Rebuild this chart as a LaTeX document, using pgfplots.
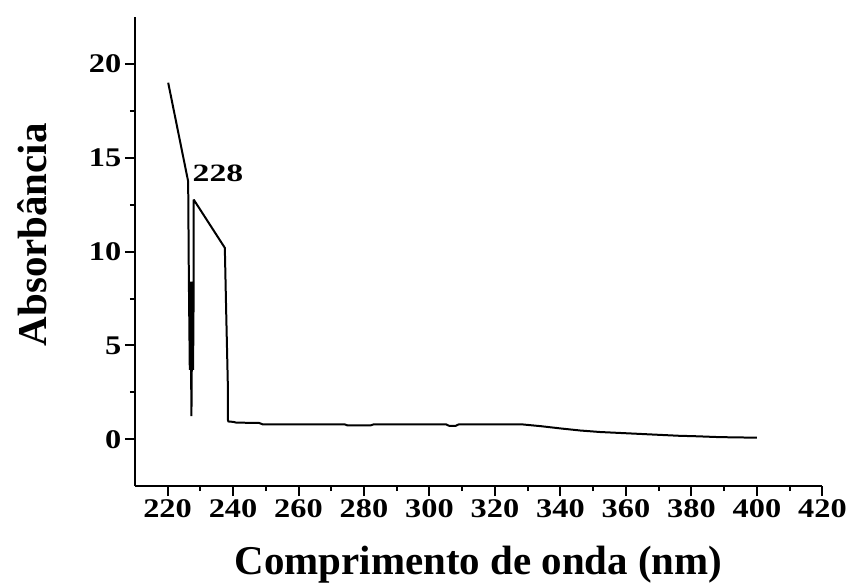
\documentclass[border=0pt]{standalone}
\usepackage{fontspec}
\setmainfont{Liberation Serif}
\newfontfamily\tickfont[FakeStretch=1.2]{Liberation Serif}
\newfontfamily\numfont[FakeStretch=1.35]{Liberation Serif}
\usepackage{pgfplots}
\pgfplotsset{compat=1.18}

\pgfplotstableread{
x y
220.2 19.0
226.3 13.74
226.5 8.8
226.8 3.7
227.0 8.4
227.2 3.7
227.3 1.24
227.4 3.7
227.6 8.4
227.8 3.7
228.0 8.4
228.0 12.77
237.5 10.2
237.9 6.9
238.4 3.03
238.4 1.06
238.6 0.95
240 0.93
241 0.89
248 0.87
249 0.80
274 0.80
275 0.74
282 0.74
283 0.80
305 0.80
306 0.72
308 0.72
309 0.80
328 0.80
334 0.70
340 0.58
346 0.47
352 0.39
358 0.34
364 0.29
370 0.24
376 0.19
382 0.16
388 0.12
394 0.10
400 0.09
}\spectrum

\begin{document}
\begin{tikzpicture}
\begin{axis}[
  at={(0pt,0pt)}, anchor=south west,
  scale only axis, width=688.7pt, height=470pt,
  xmin=210, xmax=420, ymin=-2.5, ymax=22.5,
  axis x line=bottom, axis y line=left,
  axis line style={-, line width=2pt, black},
  xtick={220,240,...,420}, ytick={0,5,10,15,20},
  minor x tick num=1, minor y tick num=1,
  tick align=outside,
  major tick length=10pt, minor tick length=5pt,
  every tick/.style={line width=2pt, black},
  /pgf/number format/assume math mode=true,
  ticklabel style={font=\tickfont\bfseries\fontsize{27}{27}\selectfont},
  xlabel={Comprimento de onda (nm)},
  ylabel={Absorbância},
  xlabel style={at={(axis description cs:0.5,-0.1872)}, anchor=base, font=\bfseries\fontsize{41}{41}\selectfont},
  ylabel style={at={(axis description cs:-0.1278,0.536)}, anchor=base, font=\bfseries\fontsize{41}{41}\selectfont},
  clip=false,
]
\addplot[black, line width=2pt, line join=miter, miter limit=2] table[x=x, y=y] {\spectrum};
\node[anchor=base, font=\numfont\bfseries\fontsize{25}{25}\selectfont] at (axis cs:235.4,13.72) {228};
\end{axis}
\path (-135pt,-97pt) rectangle (715pt,487pt);
\end{tikzpicture}
\end{document}
